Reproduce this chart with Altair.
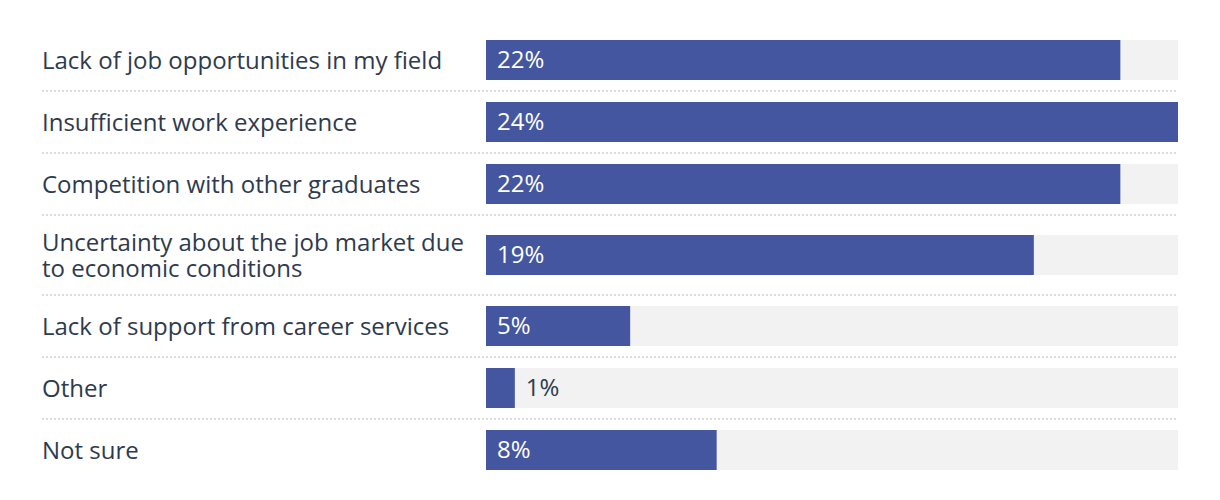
import altair as alt
import pandas as pd

categories = [
    "Lack of job opportunities in my field",
    "Insufficient work experience",
    "Competition with other graduates",
    "Uncertainty about the job market due\nto economic conditions",
    "Lack of support from career services",
    "Other",
    "Not sure",
]
values = [22, 24, 22, 19, 5, 1, 8]
value_labels = ["22%", "24%", "22%", "19%", "5%", "1%", "8%"]

BAR_COLOR = "#44569f"
TRACK_COLOR = "#f2f2f2"
TEXT_COLOR = "#2e3a4d"
SEP_COLOR = "#dcdcdc"
FONT = "Open Sans"
FS = 24
LH = 26
W = 692
BAR_H = 40
LABEL_X = -444

vmax = max(values)
xs = alt.Scale(domain=[0, vmax], nice=False, zero=True)

rows = []
for i, (cat, v, lab) in enumerate(zip(categories, values, value_labels)):
    nlines = cat.count("\n") + 1
    h = 62 + 18 * (nlines - 1)
    top = (h - 2 - BAR_H) / 2
    mid = top + BAR_H / 2
    df = pd.DataFrame({"category": [cat], "value": [v], "label": [lab], "track": [vmax]})
    base = alt.Chart(df)
    track = base.mark_bar(color=TRACK_COLOR).encode(
        x=alt.X("track:Q", scale=xs, axis=None), x2=alt.datum(0),
        y=alt.value(top), y2=alt.value(top + BAR_H),
    )
    bar = base.mark_bar(color=BAR_COLOR).encode(
        x=alt.X("value:Q", scale=xs, axis=None), x2=alt.datum(0),
        y=alt.value(top), y2=alt.value(top + BAR_H),
    )
    name = base.mark_text(
        align="left", baseline="middle", font=FONT, fontSize=FS, dy=1.5,
        color=TEXT_COLOR, lineBreak="\n", lineHeight=LH,
    ).encode(
        x=alt.value(LABEL_X), y=alt.value(mid - (nlines - 1) * LH / 2), text="category:N"
    )
    vtext = base.transform_calculate(
        pos="datum.value < 3 ? datum.value : 0"
    ).mark_text(
        align="left", baseline="middle", font=FONT, fontSize=FS, dx=11, dy=1,
    ).encode(
        x=alt.X("pos:Q", scale=xs, axis=None),
        y=alt.value(mid),
        text="label:N",
        color=alt.condition(alt.datum.value < 3, alt.value(TEXT_COLOR), alt.value("white")),
    )
    layers = [track, bar, name, vtext]
    if i < len(categories) - 1:
        sep = base.mark_rule(color=SEP_COLOR, strokeWidth=2, strokeDash=[2, 2]).encode(
            x=alt.value(LABEL_X), x2=alt.value(W), y=alt.value(h - 1)
        )
        layers.append(sep)
    rows.append(alt.layer(*layers).properties(width=W, height=h))

chart = alt.vconcat(*rows, spacing=0).properties(
    padding={"left": 33, "top": 22, "right": 10, "bottom": 5}
).configure_view(stroke=None)

chart.save("out.html", embed_options={"renderer": "svg", "actions": False})
